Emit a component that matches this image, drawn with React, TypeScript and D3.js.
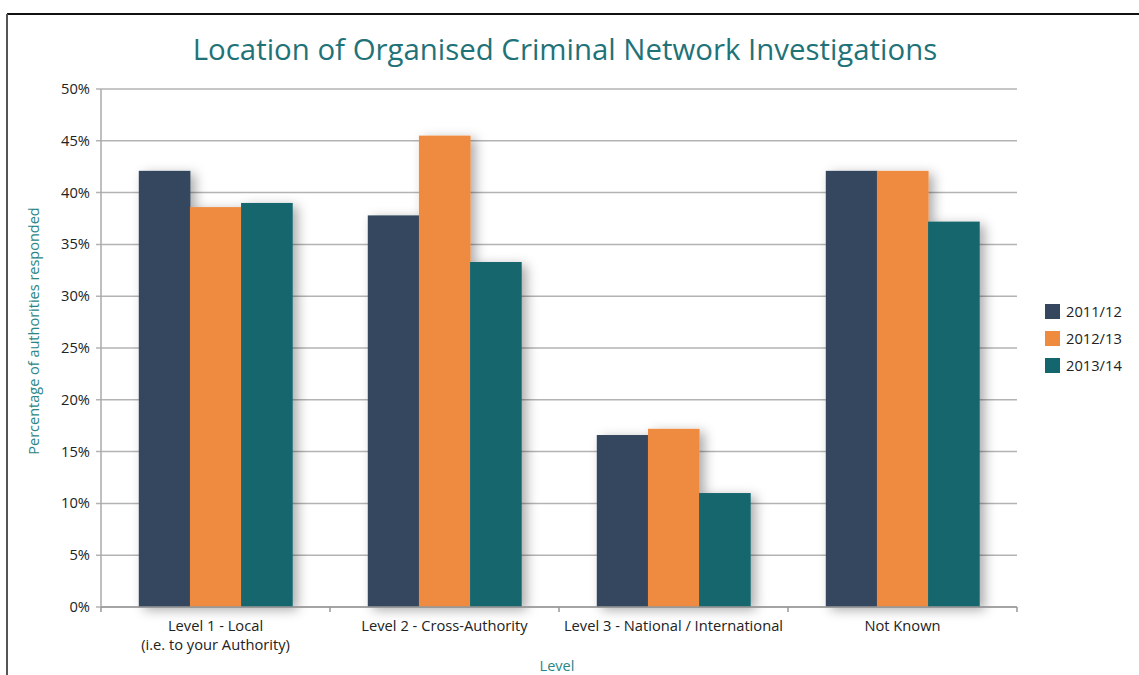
import React from "react";
import * as d3 from "d3";

const categories = ["Level 1 - Local\n(i.e. to your Authority)", "Level 2 - Cross-Authority", "Level 3 - National / International", "Not Known"];
const seriesNames = ["2011/12", "2012/13", "2013/14"];
const values2011 = [42.1, 37.8, 16.6, 42.1];
const values2012 = [38.6, 45.5, 17.2, 42.1];
const values2013 = [39.0, 33.3, 11.0, 37.2];
const yTicks = [0, 5, 10, 15, 20, 25, 30, 35, 40, 45, 50];
const colors = ["#35475e", "#ef8b3f", "#13666e"];

const W = 1139, H = 675;
const plot = { left: 101, right: 1017, top: 89, bottom: 607 };
const font = "'Open Sans', 'Noto Sans', sans-serif";

export default function App() {
  const series = [values2011, values2012, values2013];
  const x0 = d3.scaleBand<number>().domain(d3.range(categories.length)).range([plot.left, plot.right]).paddingInner(0.33).paddingOuter(0.165);
  const x1 = d3.scaleBand<number>().domain(d3.range(series.length)).range([0, x0.bandwidth()]);
  const y = d3.scaleLinear().domain([0, 50]).range([plot.bottom, plot.top]);
  const step = (plot.right - plot.left) / categories.length;

  return (
    <svg width={W} height={H} style={{ position: "absolute", left: 0, top: 0, fontFamily: font }}>
      <defs>
        <filter id="shadow" x="-20%" y="-20%" width="150%" height="150%">
          <feDropShadow dx="5" dy="3" stdDeviation="6" floodColor="#000" floodOpacity="0.33" />
        </filter>
      </defs>
      <rect x={0} y={0} width={W} height={H} fill="#fff" />
      {/* frame */}
      <line x1={7} x2={W} y1={14} y2={14} stroke="#111" strokeWidth={2} />
      <line x1={7} x2={7} y1={14} y2={H} stroke="#555" strokeWidth={2} />

      <text x={565} y={60} textAnchor="middle" fontSize={29.4} fill="#1f7378">Location of Organised Criminal Network Investigations</text>

      {/* gridlines */}
      {yTicks.map((t) => (
        <g key={t}>
          <line x1={plot.left - 5} x2={plot.right} y1={y(t)} y2={y(t)} stroke="#b3b3b3" strokeWidth={1.5} />
          <text x={90} y={y(t) + 5} textAnchor="end" fontSize={14.7} fill="#222">{t}%</text>
        </g>
      ))}
      <line x1={plot.left} x2={plot.left} y1={plot.top} y2={plot.bottom} stroke="#aaa" strokeWidth={1.5} />

      {/* bars */}
      {categories.map((c, i) => (
        <g key={c} filter="url(#shadow)">
          {series.map((s, j) => (
            <rect key={j} x={(x0(i) as number) + (x1(j) as number)} y={y(s[i])} width={x1.bandwidth() + 0.5} height={plot.bottom - y(s[i])} fill={colors[j]} />
          ))}
        </g>
      ))}

      {/* x axis */}
      <line x1={plot.left} x2={plot.right} y1={plot.bottom} y2={plot.bottom} stroke="#999" strokeWidth={1.5} />
      {d3.range(categories.length + 1).map((k) => (
        <line key={k} x1={plot.left + k * step} x2={plot.left + k * step} y1={plot.bottom} y2={plot.bottom + 5} stroke="#999" strokeWidth={1.5} />
      ))}
      {categories.map((c, i) => (
        <text key={c} x={(x0(i) as number) + x0.bandwidth() / 2} y={631} textAnchor="middle" fontSize={14.7} fill="#222">
          {c.split("\n").map((line, k) => (
            <tspan key={k} x={(x0(i) as number) + x0.bandwidth() / 2} dy={k === 0 ? 0 : 19}>{line}</tspan>
          ))}
        </text>
      ))}

      <text x={557} y={671} textAnchor="middle" fontSize={14.5} fill="#2a8585">Level</text>
      <text transform={`translate(39, 331) rotate(-90)`} textAnchor="middle" fontSize={14.5} fill="#2a8585">Percentage of authorities responded</text>

      {/* legend */}
      {seriesNames.map((n, j) => (
        <g key={n} transform={`translate(1045, ${304 + j * 27})`}>
          <rect x={0} y={0} width={15} height={15} fill={colors[j]} />
          <text x={21} y={13} fontSize={14.7} fill="#222">{n}</text>
        </g>
      ))}
    </svg>
  );
}
